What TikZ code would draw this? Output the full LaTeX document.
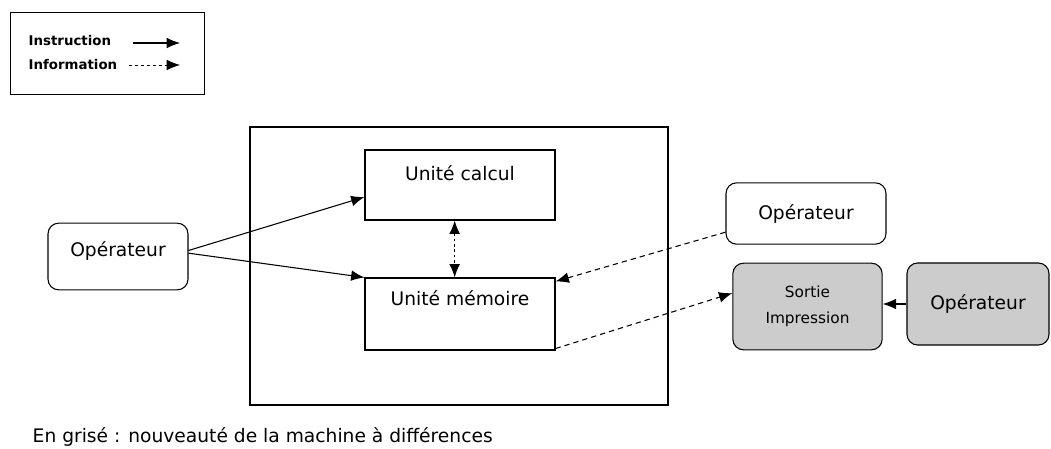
\documentclass[tikz,border=0pt]{standalone}
\usepackage{fontspec}
\setmainfont{DejaVu Sans}
\usetikzlibrary{arrows.meta,calc,positioning}
\tikzset{>={Latex[length=10pt,width=8pt]}}
\tikzstyle{unite}=[rectangle,draw=black,line width=0.8pt,minimum width=142.5pt,minimum height=52.5pt,inner sep=0pt,font=\fontsize{14}{16}\selectfont]
\tikzstyle{operateur}=[rectangle,draw=black,line width=0.8pt,rounded corners=8pt,inner sep=0pt,font=\fontsize{14}{16}\selectfont]
\tikzstyle{grise}=[fill=black!20]
\tikzstyle{info}=[->,line width=0.8pt,dash pattern=on 4pt off 3pt]

\begin{document}
\begin{tikzpicture}[x=0.75pt,y=-0.75pt]
	\useasboundingbox (0,0) rectangle (1051,449);
	% legende
	\node[draw,line width=0.8pt,minimum width=146pt,minimum height=62pt] (legende) at (107.5,53.5) {};
	\node[anchor=west,font=\bfseries\fontsize{10}{12}\selectfont] (instruction) at (24,41) {Instruction};
	\node[anchor=west,font=\bfseries\fontsize{10}{12}\selectfont] (information) at (24,65) {Information};
	\coordinate (fin1) at (180,43);
	\coordinate (fin2) at (180,65);
	\draw[->,line width=0.8pt] (fin1 -| 133,0) -- (fin1);
	\draw[->,line width=0.6pt,dash pattern=on 2.5pt off 2pt] (fin2 -| 129,0) -- (fin2);

	% machine
	\node[draw,line width=0.8pt,minimum width=313.5pt,minimum height=208.5pt] (cadre) at (459,266) {};
	\node[unite,text height=10pt,text depth=16pt] (calcul) at (460,185) {Unité calcul};
	\node[unite,text height=10pt,text depth=22pt,minimum height=54pt] (memoire) at (460,314) {Unité mémoire};

	\node[operateur,minimum width=105pt,minimum height=50pt,text height=10pt,text depth=10pt] (operateur1) at (118,256.5) {Opérateur};
	\node[operateur,minimum width=120pt,minimum height=46pt] (operateur2) at (806,213.5) {Opérateur};
	\node[operateur,grise,minimum width=112pt,minimum height=65pt,align=center,font=\fontsize{11.5}{19.5}\selectfont] (sortie) at (807.5,306.5) {Sortie\\Impression};
	\node[operateur,grise,minimum width=106.5pt,minimum height=61.5pt] (operateur3) at (978,304) {Opérateur};

	\draw[->,line width=0.8pt] ([yshift=4.5pt]operateur1.east) -- ([yshift=-9pt]calcul.west);
	\draw[->,line width=0.8pt] ([yshift=2.5pt]operateur1.east) -- (memoire.north west);
	\draw[<->,line width=0.8pt,dash pattern=on 2pt off 2pt] ([xshift=-4pt]calcul.south) -- ([xshift=-4pt]memoire.north);
	\draw[info] ([yshift=-14pt]operateur2.west) -- ([yshift=-3pt]memoire.north east);
	\draw[info] ([yshift=1.5pt]memoire.south east) -- ([yshift=10pt]sortie.west);
	\draw[->,line width=0.8pt] (operateur3.west) -- (operateur3.west -| sortie.east);

	\node[anchor=west,font=\fontsize{14}{16}\selectfont] (note) at (28,437) {En grisé : nouveauté de la machine à différences};
\end{tikzpicture}
\end{document}
